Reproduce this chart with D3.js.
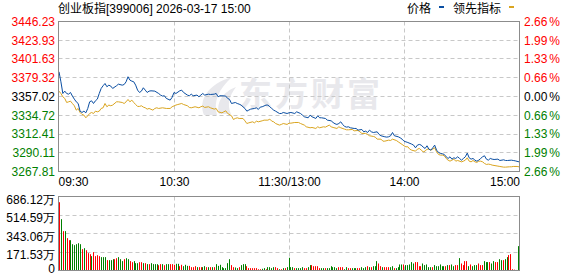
<!DOCTYPE html>
<html>
<head>
<meta charset="utf-8">
<script src="https://cdn.jsdelivr.net/npm/d3@7"></script>
<style>
body { margin: 0; background: #fff; }
svg { display: block; font-family: "Liberation Sans", "Noto Sans CJK SC", sans-serif; font-size: 12px; }
</style>
</head>
<body>
<svg id="chart" width="578" height="276"></svg>
<script>
const title = "创业板指[399006] 2026-03-17 15:00";
const seriesNames = ["价格", "领先指标"];
const seriesColors = ["#0a4ea2", "#daa520"];

const priceTicks = [3446.23, 3423.93, 3401.63, 3379.32, 3357.02, 3334.72, 3312.41, 3290.11, 3267.81];
const pctTicks = ["2.66", "1.99", "1.33", "0.66", "0.00", "0.66", "1.33", "1.99", "2.66"];
const volTicks = [686.12, 514.59, 343.06, 171.53, 0];
const timeTicks = [0, 60, 120, 180, 240];
const timeLabels = ["09:30", "10:30", "11:30/13:00", "14:00", "15:00"];

// [minutes after 09:30 with lunch removed, value]
const priceData = [
  [0,3386.4],[1,3374.5],[2,3360.6],[3,3363.4],[4,3360.6],[5,3359.8],[6,3361.8],[7,3357.5],[8,3353.9],[9,3350.7],
  [10,3348.7],[11,3339.6],[12,3338.0],[13,3339.6],[14,3337.6],[15,3342.8],[16,3350.7],[17,3351.9],[18,3348.7],[19,3351.9],
  [20,3353.9],[21,3360.6],[22,3366.6],[23,3369.8],[24,3372.5],[25,3368.6],[26,3370.5],[27,3369.4],[28,3366.6],[30,3369.8],
  [31,3371.7],[33,3370.5],[34,3371.3],[35,3374.5],[36,3380.5],[37,3376.5],[38,3375.3],[39,3374.5],[40,3370.5],[41,3364.6],
  [42,3361.8],[43,3363.4],[44,3367.4],[45,3364.6],[46,3361.8],[47,3363.4],[48,3363.8],[50,3363.4],[52,3360.6],[53,3358.7],
  [54,3357.5],[55,3357.9],[56,3354.7],[58,3352.7],[59,3356.0],[60,3361.8],[61,3360.6],[63,3363.8],[64,3364.6],[65,3361.8],
  [67,3358.7],[68,3357.9],[69,3359.8],[70,3357.9],[72,3358.7],[73,3356.7],[74,3358.7],[75,3360.6],[76,3358.7],[78,3359.8],
  [79,3359.4],[81,3359.8],[82,3360.6],[83,3356.7],[84,3357.9],[85,3357.9],[87,3357.5],[88,3354.7],[89,3353.5],[90,3348.7],
  [92,3349.9],[93,3348.7],[94,3347.9],[95,3346.8],[97,3342.8],[98,3339.6],[99,3340.8],[100,3342.0],[102,3342.8],[103,3343.6],
  [104,3341.6],[105,3344.4],[106,3344.8],[108,3346.8],[109,3346.8],[110,3344.8],[111,3342.8],[112,3340.8],[113,3339.6],[115,3336.8],
  [116,3336.8],[117,3338.0],[119,3336.8],[120,3337.6],[121,3338.0],[123,3336.8],[124,3338.8],[126,3336.8],[127,3334.9],[128,3332.9],
  [130,3331.7],[131,3334.9],[132,3332.9],[134,3330.9],[135,3334.1],[136,3331.7],[137,3331.7],[139,3330.9],[140,3328.9],[142,3328.1],
  [143,3326.1],[144,3324.6],[145,3323.8],[146,3324.9],[147,3326.9],[148,3323.8],[149,3321.4],[150,3320.6],[151,3321.0],[152,3319.8],
  [154,3319.0],[155,3319.0],[156,3317.0],[158,3317.8],[159,3315.0],[160,3315.8],[161,3314.2],[162,3317.0],[163,3315.0],[164,3314.2],
  [166,3315.0],[167,3311.9],[168,3310.3],[170,3309.1],[171,3308.7],[172,3309.1],[173,3310.3],[174,3314.2],[175,3310.3],[177,3309.1],
  [178,3307.9],[179,3306.3],[180,3303.9],[181,3303.1],[182,3302.3],[184,3300.4],[185,3299.2],[186,3296.0],[187,3299.2],[188,3300.0],
  [189,3299.2],[190,3296.8],[191,3295.2],[192,3298.4],[193,3294.4],[194,3293.2],[195,3296.0],[196,3299.2],[197,3293.2],[198,3290.5],
  [199,3289.3],[200,3288.9],[201,3288.1],[202,3285.3],[203,3283.3],[204,3285.3],[205,3282.5],[206,3284.1],[207,3283.3],[208,3285.3],
  [209,3283.3],[210,3281.3],[211,3283.3],[212,3285.3],[213,3289.7],[214,3284.1],[215,3282.5],[216,3283.3],[217,3281.3],[218,3280.1],
  [219,3281.3],[220,3283.3],[221,3285.3],[222,3286.5],[223,3282.5],[224,3281.3],[225,3283.3],[226,3282.5],[227,3282.1],[229,3282.5],
  [230,3280.9],[232,3281.7],[233,3280.9],[234,3280.9],[236,3281.3],[237,3280.9],[238,3280.5],[240,3279.3]
];

const leadData = [
  [0,3363.4],[1,3360.6],[2,3356.7],[3,3354.7],[4,3349.9],[5,3350.7],[6,3351.5],[7,3348.7],[8,3346.0],[9,3340.8],
  [10,3342.8],[11,3338.0],[12,3335.7],[13,3334.9],[14,3331.7],[15,3334.1],[16,3336.8],[17,3338.0],[18,3336.8],[19,3339.6],
  [20,3338.8],[21,3339.6],[22,3342.8],[23,3343.6],[24,3348.7],[25,3344.8],[26,3346.8],[27,3346.0],[28,3346.8],[30,3350.7],
  [31,3350.7],[33,3349.9],[34,3348.7],[35,3350.7],[36,3353.5],[37,3350.7],[38,3352.7],[39,3349.9],[40,3347.5],[41,3345.2],
  [42,3345.2],[43,3346.0],[44,3344.4],[45,3343.6],[46,3342.0],[47,3342.8],[49,3340.8],[50,3342.8],[51,3343.6],[52,3342.8],
  [54,3343.6],[56,3342.8],[58,3342.8],[59,3344.8],[61,3346.8],[62,3347.5],[64,3348.7],[65,3347.5],[67,3346.0],[68,3344.0],
  [69,3343.6],[71,3344.8],[73,3343.6],[74,3344.8],[75,3345.6],[76,3344.0],[78,3344.8],[79,3343.6],[81,3342.0],[82,3342.8],
  [83,3338.8],[85,3337.6],[86,3338.8],[87,3340.0],[88,3336.8],[90,3334.1],[91,3329.7],[92,3330.9],[93,3331.7],[94,3330.9],
  [96,3330.9],[97,3328.1],[98,3324.9],[99,3325.7],[101,3326.9],[102,3325.7],[103,3327.7],[104,3326.9],[106,3328.1],[107,3328.9],
  [109,3328.9],[110,3330.1],[111,3327.7],[112,3326.9],[113,3324.9],[115,3323.0],[116,3323.8],[117,3324.9],[119,3323.8],[120,3325.3],
  [121,3325.3],[123,3326.1],[125,3326.1],[126,3324.9],[128,3323.0],[129,3321.0],[131,3319.8],[132,3320.2],[134,3319.0],[135,3321.0],
  [136,3319.8],[138,3321.0],[139,3320.6],[141,3323.0],[142,3321.0],[143,3320.2],[145,3319.0],[146,3321.0],[147,3319.8],[149,3318.2],
  [150,3317.4],[151,3317.4],[153,3317.8],[154,3316.2],[156,3316.6],[157,3315.0],[158,3313.1],[160,3313.1],[161,3311.9],[162,3310.3],
  [164,3309.5],[165,3308.7],[166,3306.3],[168,3306.3],[169,3303.9],[170,3303.9],[172,3305.1],[173,3304.7],[174,3306.3],[176,3304.7],
  [177,3303.1],[179,3300.0],[180,3298.4],[181,3297.2],[182,3297.2],[183,3294.4],[184,3293.2],[186,3292.0],[187,3294.4],[188,3295.2],
  [189,3293.2],[190,3291.2],[191,3292.0],[192,3294.4],[193,3294.4],[194,3293.2],[195,3294.4],[196,3296.0],[197,3291.2],[198,3288.1],
  [199,3287.3],[200,3287.3],[201,3286.5],[202,3283.3],[203,3281.3],[204,3280.1],[205,3281.3],[206,3282.5],[207,3280.1],[208,3280.9],
  [210,3279.3],[211,3280.1],[212,3281.3],[213,3284.1],[214,3280.1],[215,3279.3],[216,3280.9],[217,3279.3],[218,3278.6],[219,3280.1],
  [220,3280.1],[221,3279.3],[222,3277.4],[223,3276.2],[224,3276.6],[225,3276.2],[226,3275.4],[228,3274.6],[229,3274.2],[230,3273.8],
  [232,3273.0],[233,3273.0],[235,3273.4],[236,3273.4],[237,3273.8],[239,3273.8],[240,3273.4]
];

// volume per minute (万), one bar per minute 09:30 .. 15:00
const volume = [
  633,476,365,365,300,281,281,244,235,244, 253,244,198,207,188,161,151,133,170,133,
  142,133,124,124,124,96,96,96,105,105, 114,124,105,87,105,114,105,87,77,87,
  68,68,77,77,68,68,59,59,68,59, 59,59,49,59,59,49,59,59,59,59,
  53,62,62,40,53,40,53,43,43,31, 31,40,31,31,31,31,40,31,31,31,
  31,31,59,43,53,31,22,22,68,105, 50,31,28,22,31,50,59,59,40,22,
  22,22,22,22,12,12,16,22,12,31, 31,22,31,31,22,12,12,22,22,31,
  118,31,31,22,22,22,22,31,22,22, 31,50,50,40,40,40,22,22,22,22,22,22,
  40,31,31,22,31,31,31,12,31,22, 22,22,22,22,22,22,31,22,31,40,
  31,31,40,40,87,65,40,31,31,31, 31,31,40,22,22,31,56,56,56,50,50,
  56,78,65,78,78,40,40,65,50,56, 31,31,31,50,40,40, 56,40,40,40,50,
  50,56,40,50,50,115,65,50,87,87, 40,56,40,50,50,65,50,50,87,78,78,
  78,65,87,78,78,105,96,96,105,124, 143,152,12,8,5,226
];
// R = up minute, G = down minute
const volumeDir = (
  "RGRGR RGGGG GGRGR RRGRR RRGGG RGGGR RGGGR GGRRG GGRRG RGRGG GGRRG RGGR R " +
  "RGGRRGGGRR RRGRRGGRGR GRGGGGGGGG RRGGRGGGRR RRRRRRGGRG GGGRRGRG RG " +
  "GGGRGGGGRR GGRRRRRGGRG G GGGGRRRGGR RGGGRRGGGR GRGGGRRGRR RGGRGGGGRG G " +
  "GGGRRRRGGG GGRGG G GGGRG RGGRRGRRRR GRGGGRRRGG G RGGRRGGRGG RRR RGG"
).replace(/ /g, "").split("");

const svg = d3.select("#chart");
const L = 58.5, R = 519.5, T = 21.5, B = 171.5, VT = 196.5, VB = 270.5;
const red = "#ff0000", green = "#008000", gridColor = "#c8c8c8";

const x = d3.scaleLinear().domain([0, 240]).range([L + 0.5, R - 0.5]);
const y = d3.scaleLinear().domain([priceTicks[8], priceTicks[0]]).range([B, T]);
const yv = d3.scaleLinear().domain([0, volTicks[0]]).range([VB, VT]);
const xb = d3.scaleBand().domain(d3.range(volume.length)).range([L, R]);

const px = v => Math.round(v - 0.5) + 0.5;

// title + legend
svg.append("text").attr("x", 58).attr("y", 13).attr("fill", "#000").text(title);
const legend = svg.append("g");
legend.append("text").attr("x", 407).attr("y", 13).text(seriesNames[0]);
legend.append("rect").attr("x", 439).attr("y", 6).attr("width", 5).attr("height", 2).attr("fill", seriesColors[0]);
legend.append("text").attr("x", 453).attr("y", 13).text(seriesNames[1]);
legend.append("rect").attr("x", 509).attr("y", 6).attr("width", 5).attr("height", 2).attr("fill", seriesColors[1]);

// watermark
const wm = svg.append("g").attr("fill", "#e8e8ec");
wm.append("path").attr("d", "M204,115 C198,100 208,84 232,77 C219,89 213,101 217,115 Z");
wm.append("path").attr("d", "M219,114 C216,102 223,92 236,87 C229,96 227,105 231,114 Z");
wm.append("text").attr("x", 239).attr("y", 106).attr("font-size", 33).attr("font-weight", "bold")
  .attr("letter-spacing", 3).attr("font-family", "Noto Sans CJK SC").text("东方财富");

// grids
const grid = svg.append("g").attr("stroke", gridColor).attr("stroke-dasharray", "4,3").attr("fill", "none");
priceTicks.slice(1, -1).forEach(v => {
  grid.append("line").attr("x1", L).attr("x2", R).attr("y1", px(y(v))).attr("y2", px(y(v)));
});
volTicks.slice(1, -1).forEach(v => {
  grid.append("line").attr("x1", L).attr("x2", R).attr("y1", px(yv(v))).attr("y2", px(yv(v)));
});
timeTicks.slice(1, -1).forEach(t => {
  grid.append("line").attr("x1", px(x(t))).attr("x2", px(x(t))).attr("y1", T).attr("y2", B);
  grid.append("line").attr("x1", px(x(t))).attr("x2", px(x(t))).attr("y1", VT).attr("y2", VB);
});

// volume bars
svg.append("g").selectAll("rect").data(volume).join("rect")
  .attr("x", (d, i) => Math.round(xb(i) + xb.bandwidth() / 2 - 0.5))
  .attr("y", d => yv(d))
  .attr("width", 1)
  .attr("height", d => VB - yv(d))
  .attr("fill", (d, i) => volumeDir[i] === "R" ? red : green);

// lines
const line = d3.line().x(d => x(d[0])).y(d => y(d[1]));
svg.append("path").datum(leadData).attr("d", line).attr("fill", "none")
  .attr("stroke", seriesColors[1]).attr("stroke-width", 1);
svg.append("path").datum(priceData).attr("d", line).attr("fill", "none")
  .attr("stroke", seriesColors[0]).attr("stroke-width", 1);

// frames
svg.append("rect").attr("x", L).attr("y", T).attr("width", R - L).attr("height", B - T)
  .attr("fill", "none").attr("stroke", "#8c8c8c");
svg.append("rect").attr("x", L).attr("y", VT).attr("width", R - L).attr("height", VB - VT)
  .attr("fill", "none").attr("stroke", "#8c8c8c");

// axes
const tickColor = i => i < 4 ? red : (i === 4 ? "#000" : green);

const leftAxis = svg.append("g").attr("transform", `translate(${L},0)`)
  .call(d3.axisLeft(y).tickValues(priceTicks).tickSize(0).tickPadding(3.5).tickFormat(d3.format(".2f")));
leftAxis.select(".domain").remove();
leftAxis.selectAll("text").attr("fill", (d, i) => tickColor(i)).attr("font-size", 12).attr("font-family", null);

const rightAxis = svg.append("g").attr("transform", `translate(${R},0)`)
  .call(d3.axisRight(y).tickValues(priceTicks).tickSize(0).tickPadding(4.5).tickFormat((d, i) => pctTicks[i]));
rightAxis.select(".domain").remove();
rightAxis.selectAll("text").attr("fill", (d, i) => tickColor(i)).attr("font-size", 12).attr("font-family", null)
  .append("tspan").attr("dx", 2).text("%");

const volAxis = svg.append("g").attr("transform", `translate(${L},0)`)
  .call(d3.axisLeft(yv).tickValues(volTicks).tickSize(0).tickPadding(3.5)
    .tickFormat(d => d === 0 ? "0" : d3.format(".2f")(d) + "万"));
volAxis.select(".domain").remove();
volAxis.selectAll("text").attr("fill", "#000").attr("font-size", 12).attr("font-family", null)
  .attr("dy", d => d === 0 ? "0.18em" : "0.55em");

const timeAxis = svg.append("g").attr("transform", `translate(0,${B})`)
  .call(d3.axisBottom(x).tickValues(timeTicks).tickSize(0).tickPadding(6).tickFormat((d, i) => timeLabels[i]));
timeAxis.select(".domain").remove();
timeAxis.selectAll("text").attr("fill", "#000").attr("font-size", 12).attr("font-family", null)
  .attr("text-anchor", (d, i) => i === 0 ? "start" : (i === timeTicks.length - 1 ? "end" : "middle"))
  .attr("dx", (d, i) => i === 0 ? -1 : (i === timeTicks.length - 1 ? 0.5 : 0));
</script>
</body>
</html>
